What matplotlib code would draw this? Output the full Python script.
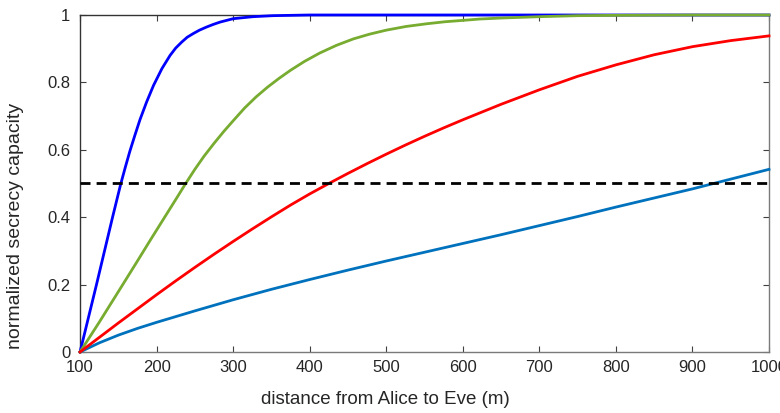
import matplotlib
matplotlib.use("Agg")
import matplotlib.pyplot as plt

# Distance (m) / normalized secrecy capacity, one pair of lists per curve.
d_fast = [100, 110, 121.5, 132, 142.5, 153, 159, 165, 171.5, 178.4, 187, 196,
          207, 217.6, 225, 233, 240, 248, 256, 265, 274, 283, 300, 326, 352,
          400, 1000]
c_fast = [0, 0.093, 0.2, 0.3, 0.4, 0.497, 0.547, 0.595, 0.642, 0.69, 0.742,
          0.791, 0.841, 0.88, 0.902, 0.92, 0.934, 0.945, 0.955, 0.964, 0.972,
          0.979, 0.989, 0.995, 0.998, 1.0, 1.0]

d_mid = [100, 125, 155, 175, 191, 210, 226, 238, 250, 262, 275, 288, 300,
         315, 330, 345, 360, 375, 393, 413, 435, 457, 478, 500, 526, 553,
         577, 600, 622, 650, 700, 750, 800, 900, 1000]
c_mid = [0, 0.088, 0.197, 0.27, 0.329, 0.398, 0.456, 0.5, 0.542, 0.581, 0.619,
         0.655, 0.686, 0.724, 0.757, 0.786, 0.812, 0.836, 0.862, 0.887, 0.91,
         0.929, 0.943, 0.955, 0.966, 0.974, 0.98, 0.984, 0.988, 0.991, 0.995,
         0.998, 0.999, 1.0, 1.0]

d_slow = [100, 125, 150, 175, 200, 225, 250, 275, 300, 325, 350, 375, 400,
          425, 450, 475, 500, 525, 550, 575, 600, 650, 700, 750, 800, 850,
          900, 950, 1000]
c_slow = [0, 0.043, 0.086, 0.128, 0.17, 0.211, 0.251, 0.29, 0.328, 0.365,
          0.401, 0.436, 0.469, 0.5, 0.53, 0.559, 0.587, 0.614, 0.64, 0.665,
          0.689, 0.735, 0.778, 0.818, 0.852, 0.882, 0.906, 0.924, 0.938]

d_far = [100, 125, 150, 175, 200, 225, 250, 300, 350, 400, 450, 500, 550, 600,
         650, 700, 750, 800, 850, 900, 950, 1000]
c_far = [0, 0.027, 0.05, 0.07, 0.088, 0.105, 0.122, 0.155, 0.186, 0.215,
         0.243, 0.27, 0.296, 0.322, 0.348, 0.375, 0.402, 0.43, 0.457, 0.484,
         0.513, 0.542]

threshold = 0.5
x_ticks = [100, 200, 300, 400, 500, 600, 700, 800, 900, 1000]
y_ticks = [0, 0.2, 0.4, 0.6, 0.8, 1]
y_tick_labels = ["0", "0.2", "0.4", "0.6", "0.8", "1"]

plt.rcParams["font.family"] = ["Liberation Sans", "DejaVu Sans"]

fig = plt.figure(figsize=(7.8, 4.13), dpi=100)
ax = fig.add_axes([0.1026, 0.1477, 0.8833, 0.8160])

ax.plot(d_far, c_far, color="#0072BD", lw=2.0, clip_on=False, zorder=3)
ax.plot(d_fast, c_fast, color="#0000FF", lw=2.0, clip_on=False, zorder=3)
ax.plot(d_mid, c_mid, color="#77AC30", lw=2.0, clip_on=False, zorder=3)
ax.plot(d_slow, c_slow, color="#FF0000", lw=2.0, clip_on=False, zorder=3)
ax.axhline(threshold, color="black", lw=2.0, dashes=(3.6, 2.2), zorder=3)

ax.set_xlim(100, 1000)
ax.set_ylim(0, 1)
ax.set_xticks(x_ticks)
ax.set_yticks(y_ticks)
ax.set_yticklabels(y_tick_labels)

ax.tick_params(direction="in", length=4.5, width=0.8, top=True, right=True,
               labelsize=12, labelcolor="#262626", color="#404040")
ax.tick_params(axis="x", pad=6)
ax.tick_params(axis="y", pad=7)

for side in ["left", "top"]:
    ax.spines[side].set_color("#333333")
for side in ["bottom", "right"]:
    ax.spines[side].set_color("#7a7a7a")
for sp in ax.spines.values():
    sp.set_linewidth(1.0)

ax.set_xlabel("distance from Alice to Eve (m)", fontsize=13.5, color="#262626")
ax.set_ylabel("normalized secrecy capacity", fontsize=14, color="#262626")
ax.xaxis.set_label_coords(0.443, -0.115)
ax.yaxis.set_label_coords(-0.081, 0.374)

fig.savefig("out.png", dpi=100)
